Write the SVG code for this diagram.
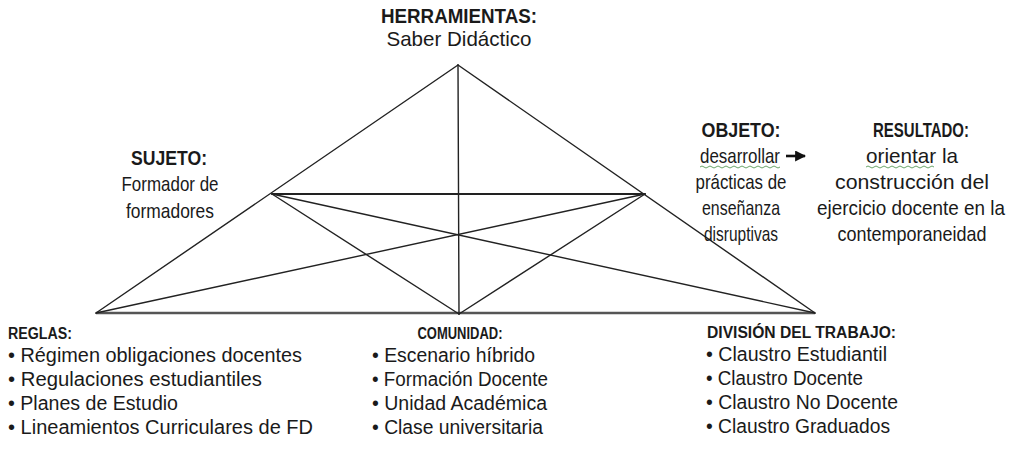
<svg xmlns="http://www.w3.org/2000/svg" width="1036" height="454" viewBox="0 0 1036 454">
<defs>
<style>
text{font-family:"Liberation Sans",Arial,sans-serif;fill:#1a1a1a}
.h{font-weight:bold;font-size:20px}
.hs{font-weight:bold;font-size:16px}
.b{font-size:21px}
.l{font-size:20px}
.c{text-anchor:middle}
.ln{stroke:#222;stroke-width:1.4;fill:none;stroke-linecap:round}
.base{stroke:#555;stroke-width:2.4;fill:none}
.wavy{stroke:#6aa56a;stroke-width:1;fill:none}
</style>
<marker id="ah" viewBox="0 0 10 10" refX="9" refY="5" markerWidth="11" markerHeight="11" markerUnits="userSpaceOnUse" orient="auto">
<path d="M0,0 L10,5 L0,10 Z" fill="#111"/>
</marker>
</defs>
<rect width="1036" height="454" fill="#fff"/>
<g id="connectors">
<line class="base" x1="96" y1="313" x2="815" y2="313"/>
<line class="ln" x1="458" y1="65" x2="96" y2="313"/>
<line class="ln" x1="458" y1="65" x2="815" y2="313"/>
<line class="ln" x1="458" y1="65" x2="459" y2="314"/>
<line class="ln" x1="272" y1="194" x2="645" y2="194" style="stroke-width:2"/>
<line class="ln" x1="272" y1="194" x2="459" y2="314"/>
<line class="ln" x1="645" y1="194" x2="459" y2="314"/>
<line class="ln" x1="272" y1="194" x2="815" y2="313"/>
<line class="ln" x1="645" y1="194" x2="96" y2="313"/>
<line x1="786" y1="156" x2="805" y2="156" stroke="#111" stroke-width="2.6" marker-end="url(#ah)"/>
</g>
<g id="herramientas">
<text class="h c" x="459" y="23" textLength="156" lengthAdjust="spacingAndGlyphs">HERRAMIENTAS:</text>
<text class="b c" x="459" y="46" textLength="145" lengthAdjust="spacingAndGlyphs">Saber Didáctico</text>
</g>
<g id="sujeto">
<text class="h c" x="169" y="165" textLength="76" lengthAdjust="spacingAndGlyphs">SUJETO:</text>
<text class="b c" x="170" y="191" textLength="97" lengthAdjust="spacingAndGlyphs">Formador de</text>
<text class="b c" x="170" y="218" textLength="88" lengthAdjust="spacingAndGlyphs">formadores</text>
</g>
<g id="objeto">
<text class="h c" x="741" y="137" textLength="79" lengthAdjust="spacingAndGlyphs">OBJETO:</text>
<text class="b c" x="740" y="163" textLength="80" lengthAdjust="spacingAndGlyphs">desarrollar</text>
<path class="wavy" d="M700,167 q2,-2 4,0 t4,0 t4,0 t4,0 t4,0 t4,0 t4,0 t4,0 t4,0 t4,0 t4,0 t4,0 t4,0 t4,0 t4,0 t4,0 t4,0 t4,0 t4,0 t4,0"/>
<text class="b c" x="741" y="189" textLength="91" lengthAdjust="spacingAndGlyphs">prácticas de</text>
<text class="b c" x="741" y="215" textLength="78" lengthAdjust="spacingAndGlyphs">enseñanza</text>
<text class="b c" x="741" y="241" textLength="74" lengthAdjust="spacingAndGlyphs">disruptivas</text>
</g>
<g id="resultado">
<text class="h c" x="921" y="137" textLength="96" lengthAdjust="spacingAndGlyphs">RESULTADO:</text>
<text class="b c" x="912" y="163" textLength="92" lengthAdjust="spacingAndGlyphs">orientar la</text>
<path class="wavy" d="M866,167 q2,-2 4,0 t4,0 t4,0 t4,0 t4,0 t4,0 t4,0 t4,0 t4,0 t4,0 t4,0 t4,0 t4,0 t4,0 t4,0 t4,0 t4,0"/>
<text class="b c" x="912" y="189" textLength="154" lengthAdjust="spacingAndGlyphs">construcción del</text>
<text class="b c" x="911" y="215" textLength="188" lengthAdjust="spacingAndGlyphs">ejercicio docente en la</text>
<text class="b c" x="912" y="241" textLength="149" lengthAdjust="spacingAndGlyphs">contemporaneidad</text>
</g>
<g id="reglas">
<text class="hs" x="8" y="339" textLength="64" lengthAdjust="spacingAndGlyphs">REGLAS:</text>
<text class="l" x="8" y="362" textLength="294" lengthAdjust="spacingAndGlyphs">• Régimen obligaciones docentes</text>
<text class="l" x="8" y="386" textLength="254" lengthAdjust="spacingAndGlyphs">• Regulaciones estudiantiles</text>
<text class="l" x="8" y="410" textLength="170" lengthAdjust="spacingAndGlyphs">• Planes de Estudio</text>
<text class="l" x="8" y="434" textLength="305" lengthAdjust="spacingAndGlyphs">• Lineamientos Curriculares de FD</text>
</g>
<g id="comunidad">
<text class="hs c" x="460" y="339" textLength="85" lengthAdjust="spacingAndGlyphs">COMUNIDAD:</text>
<text class="l" x="372" y="362" textLength="163" lengthAdjust="spacingAndGlyphs">• Escenario híbrido</text>
<text class="l" x="372" y="386" textLength="176" lengthAdjust="spacingAndGlyphs">• Formación Docente</text>
<text class="l" x="372" y="410" textLength="175" lengthAdjust="spacingAndGlyphs">• Unidad Académica</text>
<text class="l" x="372" y="434" textLength="171" lengthAdjust="spacingAndGlyphs">• Clase universitaria</text>
</g>
<g id="division">
<text class="hs" x="707" y="338" textLength="189" lengthAdjust="spacingAndGlyphs">DIVISIÓN DEL TRABAJO:</text>
<text class="l" x="706" y="361" textLength="181" lengthAdjust="spacingAndGlyphs">• Claustro Estudiantil</text>
<text class="l" x="706" y="385" textLength="157" lengthAdjust="spacingAndGlyphs">• Claustro Docente</text>
<text class="l" x="706" y="409" textLength="192" lengthAdjust="spacingAndGlyphs">• Claustro No Docente</text>
<text class="l" x="706" y="433" textLength="184" lengthAdjust="spacingAndGlyphs">• Claustro Graduados</text>
</g>
</svg>
